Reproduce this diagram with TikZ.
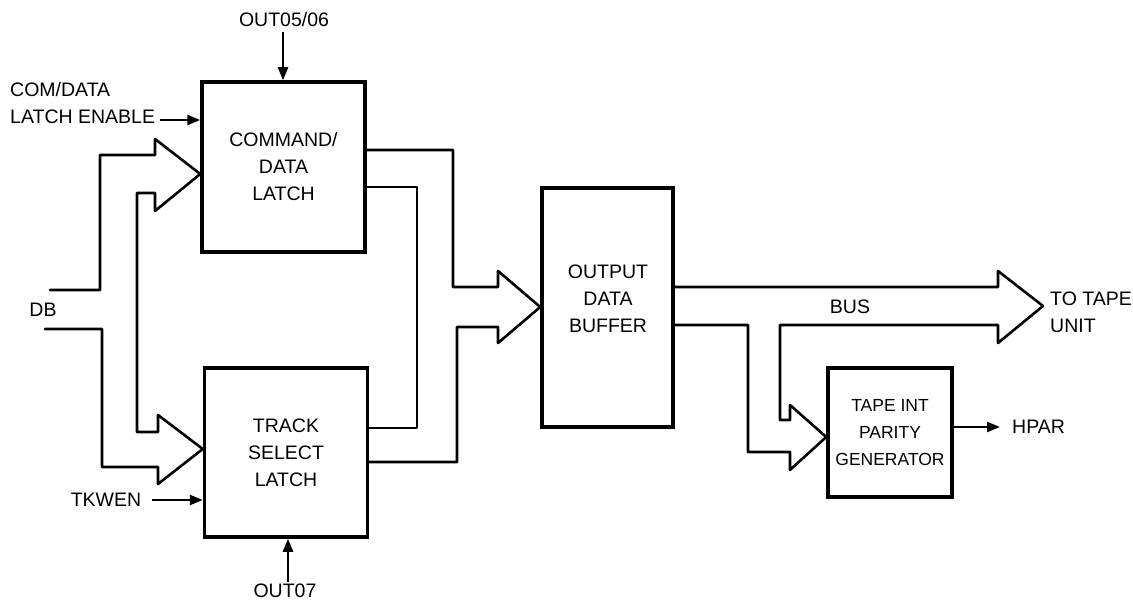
\documentclass[tikz,border=0pt]{standalone}
\usepackage{fontspec}
\setmainfont{Liberation Sans}
\usetikzlibrary{arrows.meta}
\begin{document}
\begin{tikzpicture}[x=1pt,y=-1pt,
  blk/.style={draw,line width=3.5pt,inner sep=0pt,align=center,font=\lbl},
  bus/.style={line width=2.6pt,line join=round,line cap=round},
  sig/.style={line width=2.6pt,-{Triangle[length=13pt,width=10pt]}},
  txt/.style={inner sep=0pt,font=\lbl}]
\newcommand{\lbl}{\fontsize{19.5}{27}\selectfont}
\useasboundingbox (0,0) rectangle (1133,601);
% blocks
\node[blk,minimum width=163pt,minimum height=170pt] (cmd) at (283.5,167) {COMMAND/\\DATA\\LATCH};
\node[blk,minimum width=163pt,minimum height=169pt] (trk) at (286,452.5) {TRACK\\SELECT\\LATCH};
\node[blk,minimum width=131pt,minimum height=239pt] (buf) at (607.5,307.5) {};
\node[txt,align=center] (buft) at (608,299) {OUTPUT\\DATA\\BUFFER};
\node[blk,minimum width=124pt,minimum height=129pt,font=\fontsize{17.5}{27}\selectfont] (par) at (890,432.5) {TAPE INT\\PARITY\\GENERATOR};
% labels
\node[txt] (o56) at (284,20) {OUT05/06};
\node[txt,anchor=west,align=left] (cde) at (10,103.5) {COM/DATA\\LATCH ENABLE};
\coordinate (cdeA) at (160,120);
\node[txt] (db) at (43,310) {DB};
\node[txt] (tkw) at (106,500) {TKWEN};
\coordinate (tkwA) at (152,500);
\node[txt] (o7) at (285,591) {OUT07};
\node[txt] (bus) at (850,307) {BUS};
\node[txt,anchor=west,align=left] (tape) at (1050,312) {TO TAPE\\UNIT};
\node[txt,anchor=west] (hpar) at (1012,427) {HPAR};
% control signals
\draw[sig] (o56.south -| 283,0) ++(0,5) -- (283,0 |- cmd.north);
\draw[sig] (cdeA) -- (cdeA -| cmd.west);
\draw[sig] (tkwA) -- (tkwA -| trk.west);
\draw[sig] (288,0 |- o7.north) ++(0,-2) -- (288,0 |- trk.south);
\draw[sig] (par.east |- 0,427) -- (1000,427);
% DB input bus
\draw[bus] (50,290) -- (100,290) -- (100,155) -- (155,155) -- (155,139)
  -- (cmd.west |- 0,174) -- (155,211) -- (155,193) -- (137,193) -- (137,432)
  -- (158,432) -- (158,415) -- (trk.west |- 0,449) -- (158,484) -- (158,467)
  -- (102,467) -- (102,329) -- (45,329);
% latch outputs to buffer
\draw[bus] (cmd.east |- 0,150) -- (453,150) -- (453,287) -- (498,287) -- (498,271)
  -- (buf.west |- 0,307) -- (498,343) -- (498,327) -- (457,327) -- (457,462)
  -- (trk.east |- 0,462);
\draw[bus] (cmd.east |- 0,187) -- (417,187) -- (417,428) -- (trk.east |- 0,428);
% buffer output bus
\draw[bus] (buf.east |- 0,287) -- (998,287) -- (998,271) -- (1043,306) -- (998,343)
  -- (998,325) -- (780,325) -- (780,420) -- (790,420) -- (790,405)
  -- (par.west |- 0,437) -- (790,470) -- (790,452) -- (748,452) -- (748,325)
  -- (buf.east |- 0,325);
\end{tikzpicture}
\end{document}
